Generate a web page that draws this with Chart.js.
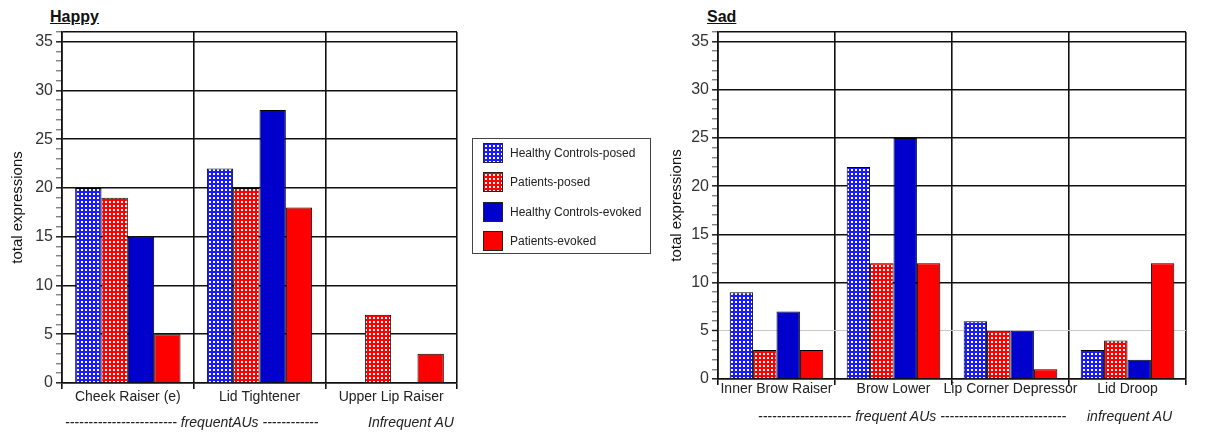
<!DOCTYPE html>
<html>
<head>
<meta charset="utf-8">
<script src="https://cdn.jsdelivr.net/npm/chart.js@4.4.1/dist/chart.umd.min.js"></script>
<style>
  html, body { margin: 0; padding: 0; background: #fff; }
  body { width: 1219px; height: 437px; position: relative; overflow: hidden; font-family: "Liberation Sans", Arial, sans-serif; color: #222; }
  .wrap { position: absolute; top: 0; }
  .title { position: absolute; top: 8px; font-weight: bold; font-size: 16px; text-decoration: underline; color: #111; }
  .note { position: absolute; font-style: italic; font-size: 14px; color: #222; white-space: nowrap; }
  #legend { position: absolute; left: 472px; top: 138px; width: 179px; height: 116px; border: 1px solid #444; box-sizing: border-box; }
  .li { position: absolute; left: 10px; height: 20px; display: flex; align-items: center; font-size: 12px; color: #222; white-space: nowrap; }
  .li canvas { border: 1px solid #222; margin-right: 7px; }
</style>
</head>
<body>
<div class="title" style="left:50px;">Happy</div>
<div class="title" style="left:707px;">Sad</div>

<div class="wrap" style="left:0px;"><canvas id="happy" width="470" height="437"></canvas></div>
<div class="wrap" style="left:650px;"><canvas id="sad" width="569" height="437"></canvas></div>

<div id="legend"></div>

<div class="note" style="left:65px; top:414px;">------------------------ frequentAUs ------------</div>
<div class="note" style="left:368px; top:414px;">Infrequent AU</div>
<div class="note" style="left:758px; top:408px;">-------------------- frequent AUs ---------------------------</div>
<div class="note" style="left:1087px; top:408px;">infrequent AU</div>

<script>
// ---- data ----
const seriesNames = ["Healthy Controls-posed", "Patients-posed", "Healthy Controls-evoked", "Patients-evoked"];

const happyCategories = ["Cheek Raiser (e)", "Lid Tightener", "Upper Lip Raiser"];
const happyHCPosed   = [20, 22, 0];
const happyPPosed    = [19, 20, 7];
const happyHCEvoked  = [15, 28, 0];
const happyPEvoked   = [5, 18, 3];

const sadCategories = ["Inner Brow Raiser", "Brow Lower", "Lip Corner Depressor", "Lid Droop"];
const sadHCPosed   = [9, 22, 6, 3];
const sadPPosed    = [3, 12, 5, 4];
const sadHCEvoked  = [7, 25, 5, 2];
const sadPEvoked   = [3, 12, 1, 12];

const yMin = 0, yMax = 36, yMajorStep = 5;

// ---- styles ----
const BLUE = "#1a1aff", RED = "#ff0000", BLUE_SOLID = "#0000cc", RED_SOLID = "#ff0000";

function makeTile(color) {
  const c = document.createElement("canvas");
  c.width = 4; c.height = 4;
  const g = c.getContext("2d");
  g.fillStyle = color; g.fillRect(0, 0, 4, 4);
  g.fillStyle = "#ffffff";
  g.fillRect(1, 1, 2, 2);
  return c;
}
const tmpCtx = document.createElement("canvas").getContext("2d");
const blueTile = makeTile(BLUE), redTile = makeTile(RED);
const bluePattern = tmpCtx.createPattern(blueTile, "repeat");
const redPattern = tmpCtx.createPattern(redTile, "repeat");
const fills = [bluePattern, redPattern, BLUE_SOLID, RED_SOLID];

// ---- legend (HTML) ----
const legend = document.getElementById("legend");
const legendFills = [blueTile, redTile, BLUE_SOLID, RED_SOLID];
seriesNames.forEach((name, i) => {
  const row = document.createElement("div");
  row.className = "li";
  row.style.top = (4 + i * 29.3) + "px";
  const sw = document.createElement("canvas");
  sw.width = 18; sw.height = 18;
  const g = sw.getContext("2d");
  const f = legendFills[i];
  g.fillStyle = typeof f === "string" ? f : g.createPattern(f, "repeat");
  g.fillRect(0, 0, 18, 18);
  row.appendChild(sw);
  const t = document.createElement("span");
  t.textContent = name;
  row.appendChild(t);
  legend.appendChild(row);
});

Chart.defaults.font.family = '"Liberation Sans", Arial, sans-serif';
Chart.defaults.color = "#222";

function makeChart(id, categories, values, opts) {
  const datasets = values.map((v, i) => ({
    label: seriesNames[i],
    data: v,
    backgroundColor: fills[i],
    borderColor: "#000",
    borderWidth: 1,
    categoryPercentage: 0.8,
    barPercentage: 1.0
  }));
  return new Chart(document.getElementById(id), {
    type: "bar",
    data: { labels: categories, datasets },
    options: {
      responsive: false,
      animation: false,
      events: [],
      layout: { padding: { top: 32, right: opts.right, left: 0, bottom: 0 } },
      plugins: { legend: { display: false }, tooltip: { enabled: false } },
      scales: {
        x: {
          grid: { offset: true, color: "#111", lineWidth: 1.6, tickLength: 6, tickColor: "#111" },
          border: { color: "#111", width: 1.6 },
          ticks: { font: { size: 14 }, color: "#222", padding: opts.xPad, autoSkip: false, maxRotation: 0 },
          afterFit: s => { s.height = opts.xHeight; }
        },
        y: {
          min: yMin, max: yMax,
          afterFit: s => { s.width = opts.yWidth; },
          border: { color: "#111", width: 1.6 },
          title: { display: true, text: "total expressions", font: { size: 15 }, color: "#111", padding: { top: opts.titlePad, bottom: 0 } },
          ticks: {
            stepSize: 1, autoSkip: false, padding: 3, font: { size: 16 }, color: "#333",
            callback: v => (v % yMajorStep === 0 ? String(v) : "")
          },
          grid: {
            tickLength: 6,
            tickColor: "#222",
            tickWidth: c => (c.tick && c.tick.value % yMajorStep === 0 ? 1.5 : 0.8),
            color: c => {
              const v = c.tick ? c.tick.value : -1;
              if (v === yMax) return "#111";
              if (v % yMajorStep === 0) return (opts.lightFive && v === 5) ? "#c8c8c8" : "#111";
              return "rgba(0,0,0,0)";
            },
            lineWidth: c => (c.tick && c.tick.value === 5 && opts.lightFive ? 1 : 1.6)
          }
        }
      }
    }
  });
}

makeChart("happy", happyCategories, [happyHCPosed, happyPPosed, happyHCEvoked, happyPEvoked],
  { right: 13, yWidth: 62, xHeight: 54, xPad: 0, titlePad: 9, lightFive: false });
makeChart("sad", sadCategories, [sadHCPosed, sadPPosed, sadHCEvoked, sadPEvoked],
  { right: 33, yWidth: 68, xHeight: 58, xPad: -4, titlePad: 18, lightFive: true });
</script>
</body>
</html>
